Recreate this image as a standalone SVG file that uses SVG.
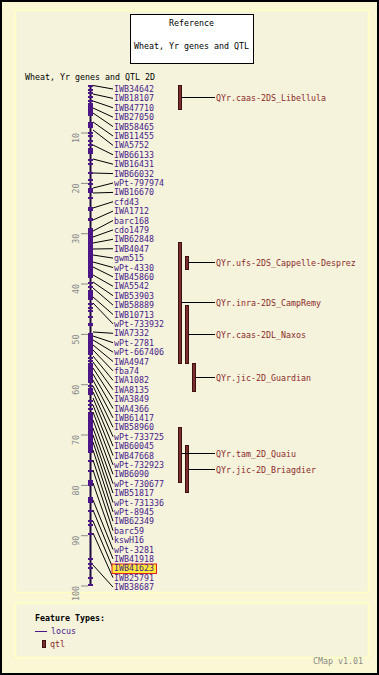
<svg xmlns="http://www.w3.org/2000/svg" width="379" height="675" viewBox="0 0 379 675">
<style>
.t{font-family:"DejaVu Sans Mono","Liberation Mono",monospace;font-size:8.3px}
.lab{fill:#48208a}
.qlab{fill:#8b2a2a}
.blk{fill:#000}
.gray{fill:#8a8a8a}
.tick{stroke:#8a8a8a;stroke-width:1}
.con line{stroke:#000;stroke-width:1}
.f{fill:#4b1487}
.q{fill:#7a2e2e;stroke:#3e1010;stroke-width:1}
</style>
<rect x="1" y="1" width="377" height="673" fill="#faf8d4" stroke="#000" stroke-width="2"/>
<rect x="15.5" y="10.5" width="353" height="582" fill="#f5f3dc" stroke="#ffffc4" stroke-width="1.5"/>
<rect x="15.5" y="603.5" width="353" height="54" fill="#f5f3dc" stroke="#ffffc4" stroke-width="1.5"/>

<g id="title">
<rect x="130.5" y="14.5" width="123" height="49" fill="#fff" stroke="#000"/>
<text class="t blk" x="191.5" y="26" text-anchor="middle">Reference</text>
<text class="t blk" x="191.5" y="49" text-anchor="middle">Wheat, Yr genes and QTL</text>
</g>
<text class="t blk" x="25" y="80">Wheat, Yr genes and QTL 2D</text>

<g id="scale">
<line class="tick" x1="81" y1="133" x2="88" y2="133"/>
<line class="tick" x1="81" y1="183.4" x2="88" y2="183.4"/>
<line class="tick" x1="81" y1="233.7" x2="88" y2="233.7"/>
<line class="tick" x1="81" y1="284" x2="88" y2="284"/>
<line class="tick" x1="81" y1="334.4" x2="88" y2="334.4"/>
<line class="tick" x1="81" y1="384.7" x2="88" y2="384.7"/>
<line class="tick" x1="81" y1="435" x2="88" y2="435"/>
<line class="tick" x1="81" y1="485.4" x2="88" y2="485.4"/>
<line class="tick" x1="81" y1="535.7" x2="88" y2="535.7"/>
<line class="tick" x1="81" y1="586" x2="88" y2="586"/>
<text class="t gray" text-anchor="end" transform="translate(79,133) rotate(-90)">10</text>
<text class="t gray" text-anchor="end" transform="translate(79,183.4) rotate(-90)">20</text>
<text class="t gray" text-anchor="end" transform="translate(79,233.7) rotate(-90)">30</text>
<text class="t gray" text-anchor="end" transform="translate(79,284) rotate(-90)">40</text>
<text class="t gray" text-anchor="end" transform="translate(79,334.4) rotate(-90)">50</text>
<text class="t gray" text-anchor="end" transform="translate(79,384.7) rotate(-90)">60</text>
<text class="t gray" text-anchor="end" transform="translate(79,435) rotate(-90)">70</text>
<text class="t gray" text-anchor="end" transform="translate(79,485.4) rotate(-90)">80</text>
<text class="t gray" text-anchor="end" transform="translate(79,535.7) rotate(-90)">90</text>
<text class="t gray" text-anchor="end" transform="translate(79,586) rotate(-90)">100</text>
</g>

<g id="chromosome">
<rect x="89.5" y="85" width="2" height="501" fill="#1e0a3c"/>
<g class="f">
<rect x="88" y="85" width="5" height="2"/><rect x="88" y="89" width="5" height="2"/><rect x="88" y="92" width="5" height="2"/>
<rect x="88" y="96" width="5" height="2"/><rect x="88" y="100" width="5" height="2"/>
<rect x="88" y="103" width="5" height="13"/>
<rect x="88" y="122" width="5" height="6"/>
<rect x="88" y="132" width="5" height="2"/><rect x="88" y="135" width="5" height="2"/><rect x="88" y="140" width="5" height="2"/><rect x="88" y="144" width="5" height="2"/>
<rect x="88" y="148" width="5" height="6"/>
<rect x="88" y="159" width="5" height="2"/><rect x="88" y="163" width="5" height="2"/><rect x="88" y="172" width="5" height="2"/><rect x="88" y="179" width="5" height="2"/><rect x="88" y="183" width="5" height="2"/>
<rect x="88" y="188" width="5" height="5"/>
<rect x="88" y="197" width="5" height="2"/>
<rect x="88" y="207" width="5" height="4"/>
<rect x="88" y="218" width="5" height="3"/>
<rect x="88" y="228" width="5" height="50"/>
<rect x="88" y="282" width="5" height="2"/><rect x="88" y="286" width="5" height="2"/><rect x="88" y="290" width="5" height="2"/>
<rect x="88" y="292" width="5" height="8"/>
<rect x="88" y="303" width="5" height="2"/><rect x="88" y="307" width="5" height="2"/><rect x="88" y="310" width="5" height="2"/>
<rect x="88" y="316" width="5" height="2"/><rect x="88" y="323" width="5" height="3"/>
<rect x="88" y="333" width="5" height="22"/>
<rect x="88" y="357" width="5" height="2"/><rect x="88" y="360" width="5" height="2"/>
<rect x="88" y="363" width="5" height="20"/>
<rect x="88" y="385" width="5" height="2"/>
<rect x="88" y="388" width="5" height="7"/>
<rect x="88" y="400" width="5" height="2"/><rect x="88" y="404" width="5" height="2"/><rect x="88" y="408" width="5" height="2"/>
<rect x="88" y="412" width="5" height="41"/>
<rect x="88" y="460" width="5" height="2"/><rect x="88" y="470" width="5" height="2"/>
<rect x="88" y="480" width="5" height="6"/>
<rect x="88" y="497" width="5" height="6"/>
<rect x="88" y="510" width="5" height="2"/><rect x="88" y="520" width="5" height="2"/><rect x="88" y="524" width="5" height="2"/>
<rect x="88" y="533" width="5" height="2"/><rect x="88" y="558" width="5" height="2"/><rect x="88" y="563" width="5" height="2"/>
<rect x="88" y="567" width="5" height="2"/><rect x="88" y="577" width="5" height="2"/><rect x="88" y="584" width="5" height="2"/>
</g>
</g>

<g id="qtls">
<g id="q-libellula"><rect class="q" x="178.5" y="85.5" width="3" height="24"/></g>
<g id="q-camp-remy"><rect class="q" x="178.5" y="242.5" width="3" height="121"/></g>
<g id="q-cappelle"><rect class="q" x="185.5" y="256.5" width="3" height="13"/></g>
<g id="q-naxos"><rect class="q" x="185.5" y="305.5" width="3" height="58"/></g>
<g id="q-guardian"><rect class="q" x="192.5" y="363.5" width="3" height="28"/></g>
<g id="q-quaiu"><rect class="q" x="178.5" y="427.5" width="3" height="55"/></g>
<g id="q-briagdier"><rect class="q" x="185.5" y="445.5" width="3" height="47"/></g>
</g>

<g id="connectors" class="con">
<line x1="93" y1="85.5" x2="113" y2="89"/>
<line x1="93" y1="94" x2="113" y2="98.4"/>
<line x1="93" y1="101" x2="113" y2="107.8"/>
<line x1="93" y1="108" x2="113" y2="117.2"/>
<line x1="93" y1="113" x2="113" y2="126.6"/>
<line x1="93" y1="122" x2="113" y2="136"/>
<line x1="93" y1="130" x2="113" y2="145.4"/>
<line x1="93" y1="145" x2="113" y2="154.8"/>
<line x1="93" y1="159" x2="113" y2="164.2"/>
<line x1="93" y1="173" x2="113" y2="173.6"/>
<line x1="93" y1="188" x2="113" y2="183"/>
<line x1="93" y1="193" x2="113" y2="192.4"/>
<line x1="93" y1="208" x2="113" y2="201.7"/>
<line x1="93" y1="220" x2="113" y2="211.1"/>
<line x1="93" y1="231" x2="113" y2="220.5"/>
<line x1="93" y1="237" x2="113" y2="229.9"/>
<line x1="93" y1="243" x2="113" y2="239.3"/>
<line x1="93" y1="249" x2="113" y2="248.7"/>
<line x1="93" y1="255" x2="113" y2="258.1"/>
<line x1="93" y1="262" x2="113" y2="267.5"/>
<line x1="93" y1="267" x2="113" y2="276.9"/>
<line x1="93" y1="275" x2="113" y2="286.3"/>
<line x1="93" y1="282" x2="113" y2="295.7"/>
<line x1="93" y1="288" x2="113" y2="305.1"/>
<line x1="93" y1="297" x2="113" y2="314.5"/>
<line x1="93" y1="303" x2="113" y2="323.9"/>
<line x1="93" y1="332" x2="113" y2="333.3"/>
<line x1="93" y1="336" x2="113" y2="342.7"/>
<line x1="93" y1="340" x2="113" y2="352.1"/>
<line x1="93" y1="345" x2="113" y2="361.5"/>
<line x1="93" y1="350" x2="113" y2="370.9"/>
<line x1="93" y1="356" x2="113" y2="380.3"/>
<line x1="93" y1="362" x2="113" y2="389.7"/>
<line x1="93" y1="368" x2="113" y2="399.1"/>
<line x1="93" y1="374" x2="113" y2="408.5"/>
<line x1="93" y1="380" x2="113" y2="417.9"/>
<line x1="93" y1="386" x2="113" y2="427.3"/>
<line x1="93" y1="392" x2="113" y2="436.7"/>
<line x1="93" y1="398" x2="113" y2="446.1"/>
<line x1="93" y1="405" x2="113" y2="455.5"/>
<line x1="93" y1="412" x2="113" y2="464.9"/>
<line x1="93" y1="420" x2="113" y2="474.3"/>
<line x1="93" y1="428" x2="113" y2="483.7"/>
<line x1="93" y1="435" x2="113" y2="493.1"/>
<line x1="93" y1="442" x2="113" y2="502.5"/>
<line x1="93" y1="450" x2="113" y2="511.9"/>
<line x1="93" y1="460" x2="113" y2="521.3"/>
<line x1="93" y1="470" x2="113" y2="530.7"/>
<line x1="93" y1="483" x2="113" y2="540.1"/>
<line x1="93" y1="500" x2="113" y2="549.5"/>
<line x1="93" y1="510" x2="113" y2="558.9"/>
<line x1="93" y1="521" x2="113" y2="568.3"/>
<line x1="93" y1="533" x2="113" y2="577.7"/>
<line x1="93" y1="565" x2="113" y2="587.1"/>
<line x1="182" y1="97.5" x2="215" y2="97.5"/>
<line x1="189" y1="262.5" x2="215" y2="262.5"/>
<line x1="182" y1="302.5" x2="215" y2="302.5"/>
<line x1="189" y1="334.5" x2="215" y2="334.5"/>
<line x1="196" y1="377.5" x2="215" y2="377.5"/>
<line x1="182" y1="453.5" x2="215" y2="453.5"/>
<line x1="189" y1="469.5" x2="215" y2="469.5"/>
</g>

<g id="locus-labels" class="t lab">
<text x="114" y="92">IWB34642</text>
<text x="114" y="101.4">IWB18107</text>
<text x="114" y="110.8">IWB47710</text>
<text x="114" y="120.2">IWB27050</text>
<text x="114" y="129.6">IWB58465</text>
<text x="114" y="139">IWB11455</text>
<text x="114" y="148.4">IWA5752</text>
<text x="114" y="157.8">IWB66133</text>
<text x="114" y="167.2">IWB16431</text>
<text x="114" y="176.6">IWB66032</text>
<text x="114" y="186">wPt-797974</text>
<text x="114" y="195.4">IWB16670</text>
<text x="114" y="204.7">cfd43</text>
<text x="114" y="214.1">IWA1712</text>
<text x="114" y="223.5">barc168</text>
<text x="114" y="232.9">cdo1479</text>
<text x="114" y="242.3">IWB62848</text>
<text x="114" y="251.7">IWB4047</text>
<text x="114" y="261.1">gwm515</text>
<text x="114" y="270.5">wPt-4330</text>
<text x="114" y="279.9">IWB45860</text>
<text x="114" y="289.3">IWA5542</text>
<text x="114" y="298.7">IWB53903</text>
<text x="114" y="308.1">IWB58889</text>
<text x="114" y="317.5">IWB10713</text>
<text x="114" y="326.9">wPt-733932</text>
<text x="114" y="336.3">IWA7332</text>
<text x="114" y="345.7">wPt-2781</text>
<text x="114" y="355.1">wPt-667406</text>
<text x="114" y="364.5">IWA4947</text>
<text x="114" y="373.9">fba74</text>
<text x="114" y="383.3">IWA1082</text>
<text x="114" y="392.7">IWA8135</text>
<text x="114" y="402.1">IWA3849</text>
<text x="114" y="411.5">IWA4366</text>
<text x="114" y="420.9">IWB61417</text>
<text x="114" y="430.3">IWB58960</text>
<text x="114" y="439.7">wPt-733725</text>
<text x="114" y="449.1">IWB60045</text>
<text x="114" y="458.5">IWB47668</text>
<text x="114" y="467.9">wPt-732923</text>
<text x="114" y="477.3">IWB6090</text>
<text x="114" y="486.7">wPt-730677</text>
<text x="114" y="496.1">IWB51817</text>
<text x="114" y="505.5">wPt-731336</text>
<text x="114" y="514.9">wPt-8945</text>
<text x="114" y="524.3">IWB62349</text>
<text x="114" y="533.7">barc59</text>
<text x="114" y="543.1">kswH16</text>
<text x="114" y="552.5">wPt-3281</text>
<text x="114" y="561.9">IWB41918</text>
<g id="highlight"><rect x="112" y="564" width="44.5" height="9.5" fill="#ffe93a" stroke="#e02020" stroke-width="1"/>
<text x="114" y="571.3">IWB41623</text></g>
<text x="114" y="580.7">IWB25791</text>
<text x="114" y="590.1">IWB38687</text>
</g>

<g id="qtl-labels" class="t qlab">
<text x="216" y="100.5">QYr.caas-2DS_Libellula</text>
<text x="216" y="265.5">QYr.ufs-2DS_Cappelle-Desprez</text>
<text x="216" y="305.5">QYr.inra-2DS_CampRemy</text>
<text x="216" y="337.5">QYr.caas-2DL_Naxos</text>
<text x="216" y="380.5">QYr.jic-2D_Guardian</text>
<text x="216" y="456.5">QYr.tam_2D_Quaiu</text>
<text x="216" y="472.5">QYr.jic-2D_Briagdier</text>
</g>

<g id="legend">
<text class="t blk" x="35" y="621" font-weight="bold">Feature Types:</text>
<line x1="35" y1="631.5" x2="47" y2="631.5" stroke="#4b1487" stroke-width="1"/>
<text class="t lab" x="51" y="634">locus</text>
<rect class="q" x="42.5" y="640.5" width="3" height="7"/>
<text class="t qlab" x="50" y="647">qtl</text>
</g>
<text class="t gray" x="313" y="664">CMap v1.01</text>
</svg>
